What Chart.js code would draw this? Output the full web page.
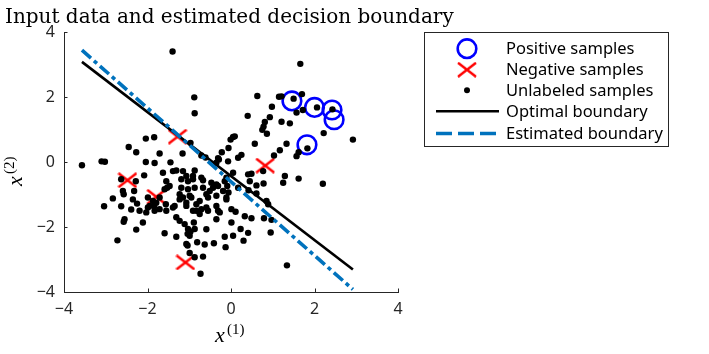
<!DOCTYPE html>
<html>
<head>
<meta charset="utf-8">
<script src="https://cdn.jsdelivr.net/npm/chart.js@4"></script>
<style>
  html, body { margin: 0; padding: 0; background: #fff; }
</style>
</head>
<body>
<canvas id="grafico" width="709" height="354"></canvas>
<script>
// dados
const tickValues = [-4, -2, 0, 2, 4];

const positivos = [[1.46, 1.88], [2.00, 1.68], [2.42, 1.60], [2.47, 1.30], [1.82, 0.53]];
const negativos = [[-1.28, 0.78], [-2.48, -0.56], [-1.79, -1.07], [-1.09, -3.09], [0.82, -0.11]];

const naoRotulados = [
  [-1.40, 3.40], [-0.88, 1.99], [-0.87, 1.50], [-2.04, 0.72], [-1.84, 0.76], [-2.45, 0.46], [-2.27, 0.30],
  [-1.71, 0.26], [-1.16, 0.26], [-0.97, 0.59], [-0.71, 0.20], [-0.61, 0.14], [-0.31, 0.12], [-0.22, 0.30],
  [-0.06, 0.43], [-0.01, 0.69], [0.05, 0.77], [-3.10, 0.02], [-3.02, 0.01], [-3.57, -0.10], [-2.04, 0.00],
  [-1.83, -0.03], [-1.45, -0.01], [-0.07, 0.02],
  [1.66, 3.02], [0.63, 2.03], [1.15, 2.01], [1.21, 2.02], [1.70, 2.09], [1.50, 1.95], [0.98, 1.70],
  [1.72, 1.60], [1.57, 1.52], [2.06, 1.68], [2.43, 1.62], [0.40, 1.42], [0.93, 1.38], [0.81, 1.23],
  [0.78, 1.09], [1.21, 1.24], [1.41, 1.19], [0.75, 0.99], [0.86, 0.87], [2.22, 0.89], [2.92, 0.69],
  [0.09, 0.79], [0.57, 0.56], [1.33, 0.56], [1.17, 0.36], [1.03, 0.20], [1.83, 0.42], [1.57, 0.18],
  [1.62, 0.30], [0.17, 0.13], [0.25, 0.22],
  [-1.63, -0.33], [-1.39, -0.28], [-1.31, -0.26], [-1.15, -0.28], [-0.87, -0.26], [-2.08, -0.41],
  [-2.63, -0.53], [-2.28, -0.59], [-1.55, -0.59], [-1.47, -0.74], [-1.53, -0.79], [-1.19, -0.53],
  [-1.03, -0.59], [-0.91, -0.53], [-0.67, -0.56], [-0.87, -0.79], [-1.19, -0.79], [-1.03, -0.84],
  [-2.59, -0.89], [-2.57, -0.99], [-2.83, -1.12], [-3.04, -1.36], [-2.63, -1.36], [-2.39, -1.46],
  [-2.19, -1.50], [-2.35, -1.15], [-2.25, -1.28], [-1.99, -1.09], [-1.87, -1.20], [-1.71, -1.09],
  [-1.99, -1.40], [-1.84, -1.35], [-1.71, -1.45], [-1.56, -1.30], [-1.55, -1.50], [-1.35, -1.35],
  [-1.39, -1.40], [-1.23, -0.99], [-1.15, -1.09], [-1.07, -1.25], [-0.95, -1.09], [-0.83, -1.30],
  [-0.75, -1.20], [-0.59, -0.99], [-0.51, -0.89], [-0.43, -0.79], [-0.67, -0.79], [-0.83, -1.50],
  [-0.75, -1.60], [-0.59, -1.40], [-0.55, -1.50], [-0.35, -1.35], [-0.27, -1.55], [-0.35, -1.76],
  [-0.19, -0.89], [-0.11, -1.09], [0.01, -1.45], [0.01, -1.86], [0.05, -2.27], [-2.55, -1.76],
  [-2.57, -1.84], [-2.11, -1.86], [-2.27, -2.08], [-2.72, -2.41], [-1.59, -2.19], [-1.31, -1.70],
  [-1.23, -1.81], [-1.11, -1.91], [-1.31, -2.30], [-1.04, -2.21], [-0.97, -2.14], [-0.87, -2.06],
  [-0.89, -1.86], [-0.59, -2.07], [-1.04, -2.57], [-0.81, -2.47], [-0.63, -2.54], [-0.41, -2.50],
  [-0.15, -2.30], [-0.13, -2.62], [-0.99, -2.80], [-0.87, -2.93], [-0.67, -2.91], [-0.73, -3.44],
  [-2.32, -0.89],
  [0.05, -0.33], [-0.11, -0.48], [0.41, -0.38], [0.49, -0.36], [0.77, -0.28], [0.45, -0.59],
  [0.61, -0.72], [0.78, -0.66], [1.29, -0.43], [1.25, -0.64], [1.62, -0.51], [2.20, -0.67],
  [0.17, -0.79], [-0.06, -0.94], [-0.11, -1.15], [0.42, -0.87], [0.61, -0.97], [0.85, -1.20],
  [0.89, -1.30], [0.11, -1.53], [0.33, -1.67], [0.49, -1.73], [0.79, -1.73], [0.97, -1.78],
  [0.23, -2.06], [0.95, -2.17], [0.30, -2.42], [1.34, -3.18], [-0.29, 0.08], [-0.35, -0.02],
  [-0.15, -0.59], [-0.09, -0.74], [-0.31, -0.74], [-0.35, -1.04], [-0.31, -1.50], [0.41, -2.18],
  [-1.07, -0.43], [-0.91, -0.43], [-0.71, -0.48], [-0.47, -0.64], [-0.35, -0.69], [-1.59, -0.84],
  [-0.99, -1.04], [-0.55, -1.09], [-0.71, -1.45], [-0.91, -1.50], [-1.07, -1.35], [-1.23, -1.15],
  [-1.03, -2.06], [-0.99, -2.27], [-1.07, -2.52], [-2.03, -1.55], [-1.83, -1.50], [-1.95, -1.35],
  [-1.79, -1.25]
];

// fronteiras (extremos no intervalo dos dados)
const otimaX = [-3.57, 2.92];
const otimaY = [3.08, -3.31];
const estimadaX = [-3.57, 2.92];
const estimadaY = [3.44, -3.92];

const legendas = ['Positive samples', 'Negative samples', 'Unlabeled samples', 'Optimal boundary', 'Estimated boundary'];

const azulLinha = '#0072BD';
const corEixo = '#262626';
const fonteSans = '"Noto Sans", "Liberation Sans", sans-serif';

function pares(lista) {
  return lista.map(function (p) { return { x: p[0], y: p[1] }; });
}
function linha(xs, ys) {
  return xs.map(function (x, i) { return { x: x, y: ys[i] }; });
}
function fmt(v) {
  return v < 0 ? '\u2212' + Math.abs(v) : String(v);
}

// marcador X (um pouco mais largo que alto, como na figura)
function criaX(w, h) {
  const c = document.createElement('canvas');
  c.width = w; c.height = h;
  const g = c.getContext('2d');
  g.strokeStyle = '#ff0000';
  g.lineWidth = 2.4;
  g.beginPath();
  g.moveTo(1, 1); g.lineTo(w - 1, h - 1);
  g.moveTo(w - 1, 1); g.lineTo(1, h - 1);
  g.stroke();
  return c;
}
const marcaX = criaX(20, 16);

// Desenha titulo, rotulos dos eixos, ticks para dentro e a legenda
const extras = {
  id: 'extras',
  afterDraw(chart) {
    const ctx = chart.ctx;
    const xs = chart.scales.x, ys = chart.scales.y;
    const area = chart.chartArea;
    ctx.save();

    // ticks para dentro
    ctx.strokeStyle = corEixo;
    ctx.lineWidth = 1;
    ctx.beginPath();
    tickValues.forEach(function (v) {
      const px = Math.round(xs.getPixelForValue(v)) + 0.5;
      ctx.moveTo(px, area.bottom); ctx.lineTo(px, area.bottom - 3.5);
      const py = Math.round(ys.getPixelForValue(v)) + 0.5;
      ctx.moveTo(area.left, py); ctx.lineTo(area.left + 3.5, py);
    });
    ctx.stroke();

    // titulo
    ctx.fillStyle = '#000';
    ctx.textBaseline = 'alphabetic';
    ctx.textAlign = 'left';
    ctx.font = '20px "DejaVu Serif", serif';
    ctx.fillText('Input data and estimated decision boundary', 5, 23);

    // rotulo x
    ctx.font = 'italic 22px "Liberation Serif", serif';
    ctx.fillText('x', 215, 342);
    ctx.font = '15px "Liberation Serif", serif';
    ctx.fillText('(1)', 227, 334);

    // rotulo y
    ctx.save();
    ctx.translate(22, 186);
    ctx.rotate(-Math.PI / 2);
    ctx.font = 'italic 22px "Liberation Serif", serif';
    ctx.fillText('x', 0, 0);
    ctx.font = '15px "Liberation Serif", serif';
    ctx.fillText('(2)', 12, -8);
    ctx.restore();

    // legenda
    const bx = 424.5, by = 32.5, bw = 244, bh = 114;
    ctx.fillStyle = '#fff';
    ctx.fillRect(bx, by, bw, bh);
    ctx.strokeStyle = corEixo;
    ctx.lineWidth = 1;
    ctx.strokeRect(bx, by, bw, bh);
    const linhasY = [48.7, 69.7, 90.3, 111.3, 133.5];
    const cx = 467;

    ctx.strokeStyle = '#0000ff';
    ctx.lineWidth = 2.6;
    ctx.beginPath();
    ctx.arc(cx, linhasY[0], 9.3, 0, Math.PI * 2);
    ctx.stroke();

    ctx.drawImage(marcaX, cx - 10, linhasY[1] - 8);

    ctx.fillStyle = '#000';
    ctx.beginPath();
    ctx.arc(cx, linhasY[2], 3, 0, Math.PI * 2);
    ctx.fill();

    ctx.strokeStyle = '#000';
    ctx.lineWidth = 2.6;
    ctx.beginPath();
    ctx.moveTo(436, linhasY[3]); ctx.lineTo(499, linhasY[3]);
    ctx.stroke();

    ctx.strokeStyle = azulLinha;
    ctx.lineWidth = 3.6;
    ctx.setLineDash([16, 6]);
    ctx.beginPath();
    ctx.moveTo(436, linhasY[4]); ctx.lineTo(499, linhasY[4]);
    ctx.stroke();
    ctx.setLineDash([]);

    ctx.fillStyle = '#000';
    ctx.font = '16.5px ' + fonteSans;
    ctx.textBaseline = 'middle';
    legendas.forEach(function (t, i) {
      ctx.fillText(t, 506, linhasY[i] + 1);
    });

    ctx.restore();
  }
};

const ctx1 = document.getElementById('grafico').getContext('2d');
new Chart(ctx1, {
  type: 'scatter',
  data: {
    datasets: [
      {
        label: legendas[0],
        data: pares(positivos),
        pointStyle: 'circle',
        pointRadius: 9.3,
        pointBorderWidth: 2.6,
        pointBorderColor: '#0000ff',
        pointBackgroundColor: 'rgba(0,0,0,0)',
        order: 5
      },
      {
        label: legendas[1],
        data: pares(negativos),
        pointStyle: marcaX,
        order: 4
      },
      {
        label: legendas[2],
        data: pares(naoRotulados),
        pointStyle: 'circle',
        pointRadius: 3.2,
        pointBorderWidth: 0,
        pointBackgroundColor: '#000',
        order: 3
      },
      {
        label: legendas[3],
        data: linha(otimaX, otimaY),
        showLine: true,
        borderColor: '#000',
        borderWidth: 2.6,
        pointRadius: 0,
        order: 2
      },
      {
        label: legendas[4],
        data: linha(estimadaX, estimadaY),
        showLine: true,
        borderColor: azulLinha,
        borderWidth: 3.6,
        borderDash: [12, 4, 4, 4],
        pointRadius: 0,
        order: 1
      }
    ]
  },
  options: {
    responsive: false,
    animation: false,
    devicePixelRatio: 1,
    layout: { padding: { left: 0, top: 32, right: 311, bottom: 0 } },
    plugins: {
      legend: { display: false },
      tooltip: { enabled: false }
    },
    scales: {
      x: {
        type: 'linear',
        min: -4, max: 4,
        afterFit: function (s) { s.height = 62; },
        afterBuildTicks: function (s) { s.ticks = tickValues.map(function (v) { return { value: v }; }); },
        ticks: {
          callback: fmt,
          color: corEixo,
          padding: 8,
          maxRotation: 0,
          font: { family: fonteSans, size: 16 }
        },
        grid: { display: true, drawOnChartArea: false, drawTicks: false },
        border: { display: true, color: corEixo, width: 1 }
      },
      y: {
        type: 'linear',
        min: -4, max: 4,
        afterFit: function (s) { s.width = 64; },
        afterBuildTicks: function (s) { s.ticks = tickValues.map(function (v) { return { value: v }; }); },
        ticks: {
          callback: fmt,
          color: corEixo,
          padding: 9,
          font: { family: fonteSans, size: 16 }
        },
        grid: { display: true, drawOnChartArea: false, drawTicks: false },
        border: { display: true, color: corEixo, width: 1 }
      }
    }
  },
  plugins: [extras]
});
</script>
</body>
</html>
